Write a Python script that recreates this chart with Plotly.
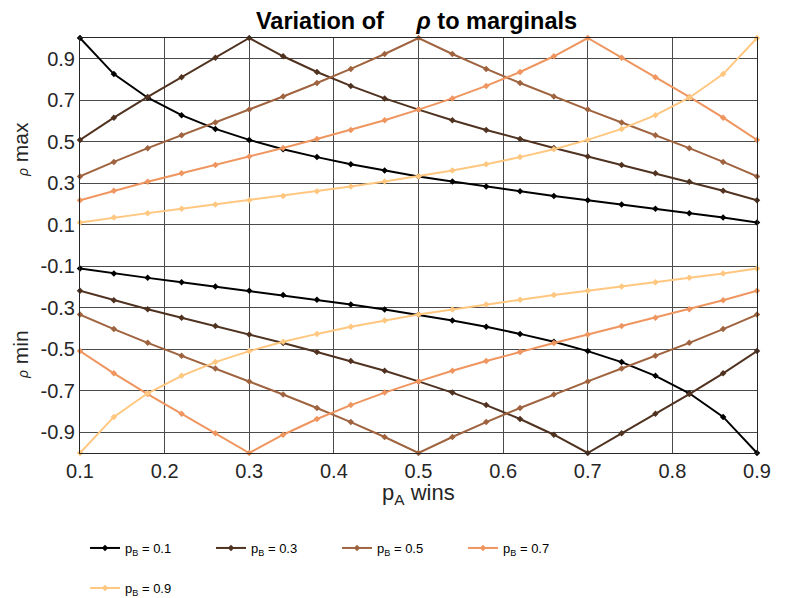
import plotly.graph_objects as go

# ---- data ----
p_a = [0.10, 0.14, 0.18, 0.22, 0.26, 0.30, 0.34, 0.38, 0.42, 0.46, 0.50,
       0.54, 0.58, 0.62, 0.66, 0.70, 0.74, 0.78, 0.82, 0.86, 0.90]

p_b_labels = ["0.1", "0.3", "0.5", "0.7", "0.9"]

rho_max_01 = [1.000, 0.826, 0.712, 0.628, 0.562, 0.509, 0.464, 0.426, 0.392, 0.361, 0.333,
              0.308, 0.284, 0.261, 0.239, 0.218, 0.198, 0.177, 0.156, 0.135, 0.111]
rho_max_03 = [0.509, 0.616, 0.716, 0.811, 0.905, 1.000, 0.912, 0.836, 0.769, 0.709, 0.655,
              0.604, 0.557, 0.513, 0.470, 0.429, 0.388, 0.348, 0.307, 0.264, 0.218]
rho_max_05 = [0.333, 0.403, 0.469, 0.531, 0.593, 0.655, 0.718, 0.783, 0.851, 0.923, 1.000,
              0.923, 0.851, 0.783, 0.718, 0.655, 0.593, 0.531, 0.469, 0.403, 0.333]
rho_max_07 = [0.218, 0.264, 0.307, 0.348, 0.388, 0.429, 0.470, 0.513, 0.557, 0.604, 0.655,
              0.709, 0.769, 0.836, 0.912, 1.000, 0.905, 0.811, 0.716, 0.616, 0.509]
rho_max_09 = [0.111, 0.135, 0.156, 0.177, 0.198, 0.218, 0.239, 0.261, 0.284, 0.308, 0.333,
              0.361, 0.392, 0.426, 0.464, 0.509, 0.562, 0.628, 0.712, 0.826, 1.000]

rho_min_01 = [-0.111, -0.135, -0.156, -0.177, -0.198, -0.218, -0.239, -0.261, -0.284, -0.308, -0.333,
              -0.361, -0.392, -0.426, -0.464, -0.509, -0.562, -0.628, -0.712, -0.826, -1.000]
rho_min_03 = [-0.218, -0.264, -0.307, -0.348, -0.388, -0.429, -0.470, -0.513, -0.557, -0.604, -0.655,
              -0.709, -0.769, -0.836, -0.912, -1.000, -0.905, -0.811, -0.716, -0.616, -0.509]
rho_min_05 = [-0.333, -0.403, -0.469, -0.531, -0.593, -0.655, -0.718, -0.783, -0.851, -0.923, -1.000,
              -0.923, -0.851, -0.783, -0.718, -0.655, -0.593, -0.531, -0.469, -0.403, -0.333]
rho_min_07 = [-0.509, -0.616, -0.716, -0.811, -0.905, -1.000, -0.912, -0.836, -0.769, -0.709, -0.655,
              -0.604, -0.557, -0.513, -0.470, -0.429, -0.388, -0.348, -0.307, -0.264, -0.218]
rho_min_09 = [-1.000, -0.826, -0.712, -0.628, -0.562, -0.509, -0.464, -0.426, -0.392, -0.361, -0.333,
              -0.308, -0.284, -0.261, -0.239, -0.218, -0.198, -0.177, -0.156, -0.135, -0.111]

x_ticks = [0.1, 0.2, 0.3, 0.4, 0.5, 0.6, 0.7, 0.8, 0.9]
x_tick_text = ["0.1", "0.2", "0.3", "0.4", "0.5", "0.6", "0.7", "0.8", "0.9"]
y_ticks = [-0.9, -0.7, -0.5, -0.3, -0.1, 0.1, 0.3, 0.5, 0.7, 0.9]
y_tick_text = ["-0.9", "-0.7", "-0.5", "-0.3", "-0.1", "0.1", "0.3", "0.5", "0.7", "0.9"]

# ---- styling ----
colors = ["#000000", "#503220", "#9f643f", "#ef955f", "#ffc77f"]
FONT = "Liberation Sans, Arial, sans-serif"
W, H = 795, 598
OFF = 8  # page body margin of the written html

max_series = [rho_max_01, rho_max_03, rho_max_05, rho_max_07, rho_max_09]
min_series = [rho_min_01, rho_min_03, rho_min_05, rho_min_07, rho_min_09]

fig = go.Figure()
for i, lab in enumerate(p_b_labels):
    leg = "legend" if i < 4 else "legend2"
    fig.add_trace(go.Scatter(
        x=p_a, y=max_series[i], mode="lines+markers",
        name=f"p<sub>B</sub> = {lab}", legendgroup=lab, legend=leg,
        line=dict(color=colors[i], width=2),
        marker=dict(symbol="diamond", size=5, color=colors[i]),
        cliponaxis=False,
    ))
for i, lab in enumerate(p_b_labels):
    fig.add_trace(go.Scatter(
        x=p_a, y=min_series[i], mode="lines+markers",
        name=f"p<sub>B</sub> = {lab}", legendgroup=lab, showlegend=False,
        line=dict(color=colors[i], width=2),
        marker=dict(symbol="diamond", size=5, color=colors[i]),
        cliponaxis=False,
    ))

legend_common = dict(
    orientation="h", xanchor="left", yanchor="middle",
    xref="container", yref="container",
    font=dict(family=FONT, size=13, color="#000000"),
    bgcolor="rgba(0,0,0,0)", entrywidth=81, entrywidthmode="pixels",
    tracegroupgap=0,
)

# plot area in page pixels: left 80, right 757, top 38, bottom 453
fig.update_layout(
    width=W, height=H,
    margin=dict(l=80 - OFF, r=W + OFF - 757, t=38 - OFF, b=H + OFF - 453),
    paper_bgcolor="white", plot_bgcolor="white",
    font=dict(family=FONT, color="#262626"),
    title=dict(
        text="<b>Variation of\u00a0\u00a0\u00a0\u00a0 <i>ρ</i> to marginals</b>",
        x=(416.5 - OFF) / W, xanchor="center", xref="container",
        y=1 - (21 - OFF) / H, yanchor="middle", yref="container",
        font=dict(family=FONT, size=23.5, color="#000000"),
    ),
    xaxis=dict(
        range=[0.1, 0.9], tickvals=x_ticks, ticktext=x_tick_text,
        showgrid=True, gridcolor="#4a4a4a", gridwidth=1,
        showline=True, linecolor="#262626", linewidth=1, mirror=True,
        ticks="", zeroline=False,
        tickfont=dict(family=FONT, size=20, color="#262626"),
    ),
    yaxis=dict(
        range=[-1, 1], tickvals=y_ticks, ticktext=y_tick_text,
        showgrid=True, gridcolor="#4a4a4a", gridwidth=1,
        showline=True, linecolor="#262626", linewidth=1, mirror=True,
        ticks="", zeroline=False,
        tickfont=dict(family=FONT, size=20, color="#262626"),
    ),
    legend=dict(x=(85 - OFF) / W, y=1 - (548 - OFF) / H, **legend_common),
    legend2=dict(x=(85 - OFF) / W, y=1 - (588 - OFF) / H, **legend_common),
    showlegend=True,
)

fig.add_annotation(
    text="p<sub>A</sub> wins",
    xref="paper", yref="paper", x=0.5, y=(453 - 494) / 415, xanchor="center", yanchor="middle",
    showarrow=False, font=dict(family=FONT, size=22, color="#262626"),
)
fig.add_annotation(
    text="<span style='font-size:14px'><i>ρ</i></span> max", textangle=-90,
    xref="paper", yref="paper", x=(20 - 80) / 677, y=(453 - 150) / 415,
    xanchor="center", yanchor="middle",
    showarrow=False, font=dict(family=FONT, size=21, color="#262626"),
)
fig.add_annotation(
    text="<span style='font-size:14px'><i>ρ</i></span> min", textangle=-90,
    xref="paper", yref="paper", x=(20 - 80) / 677, y=(453 - 355) / 415,
    xanchor="center", yanchor="middle",
    showarrow=False, font=dict(family=FONT, size=21, color="#262626"),
)

fig.write_html("out.html")
